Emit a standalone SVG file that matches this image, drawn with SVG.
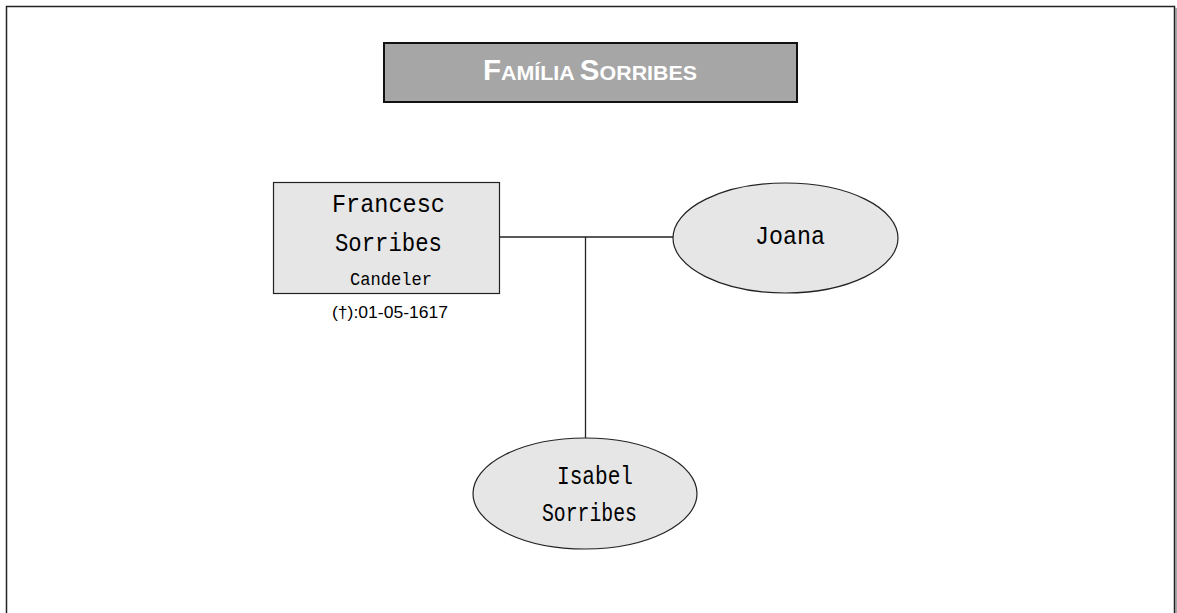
<svg xmlns="http://www.w3.org/2000/svg" width="1177" height="613" viewBox="0 0 1177 613">
<style>
.mono{font-family:"Liberation Mono","DejaVu Sans Mono",monospace;fill:#000;text-anchor:middle}
.node{fill:#e6e6e6;stroke:#222;stroke-width:1.2}
.conn{stroke:#222;stroke-width:1.3;fill:none}
.ttl{font-family:"Liberation Sans",Arial,sans-serif;font-weight:bold;fill:#fff}
</style>
<rect x="0" y="0" width="1177" height="613" fill="#fff"/>
<rect x="6.5" y="6.5" width="1168" height="640" fill="#fff" stroke="#222" stroke-width="1.5"/>
<line x1="1176" y1="8" x2="1176" y2="613" stroke="#888" stroke-width="1.5"/>
<g id="title">
<rect x="384" y="43" width="413" height="59" fill="#a6a6a6" stroke="#111" stroke-width="2"/>
<text class="ttl" x="590" y="80" text-anchor="middle" textLength="214" lengthAdjust="spacingAndGlyphs"><tspan font-size="29">F</tspan><tspan font-size="21">AMÍLIA </tspan><tspan font-size="29">S</tspan><tspan font-size="21">ORRIBES</tspan></text>
</g>
<g id="connectors">
<line class="conn" x1="500" y1="237" x2="674" y2="237"/>
<line class="conn" x1="585.5" y1="237" x2="585.5" y2="438"/>
</g>
<g id="francesc">
<rect class="node" x="273.5" y="182.5" width="226" height="111"/>
<text class="mono" x="388.5" y="212" font-size="25" textLength="113" lengthAdjust="spacingAndGlyphs">Francesc</text>
<text class="mono" x="388.5" y="251" font-size="25" textLength="107" lengthAdjust="spacingAndGlyphs">Sorribes</text>
<text class="mono" x="391" y="285" font-size="18" textLength="82" lengthAdjust="spacingAndGlyphs">Candeler</text>
<text class="mono" x="390" y="318" font-size="16" textLength="116" lengthAdjust="spacingAndGlyphs" style="font-family:'Liberation Sans',Arial,sans-serif">(†):01-05-1617</text>
</g>
<g id="joana">
<ellipse class="node" cx="785.5" cy="238" rx="112.5" ry="55"/>
<text class="mono" x="790" y="244" font-size="25" textLength="70" lengthAdjust="spacingAndGlyphs">Joana</text>
</g>
<g id="isabel">
<ellipse class="node" cx="585" cy="493.5" rx="112" ry="55.5"/>
<text class="mono" x="595" y="484" font-size="25" textLength="76" lengthAdjust="spacingAndGlyphs">Isabel</text>
<text class="mono" x="589.5" y="521" font-size="25" textLength="95" lengthAdjust="spacingAndGlyphs">Sorribes</text>
</g>
</svg>
